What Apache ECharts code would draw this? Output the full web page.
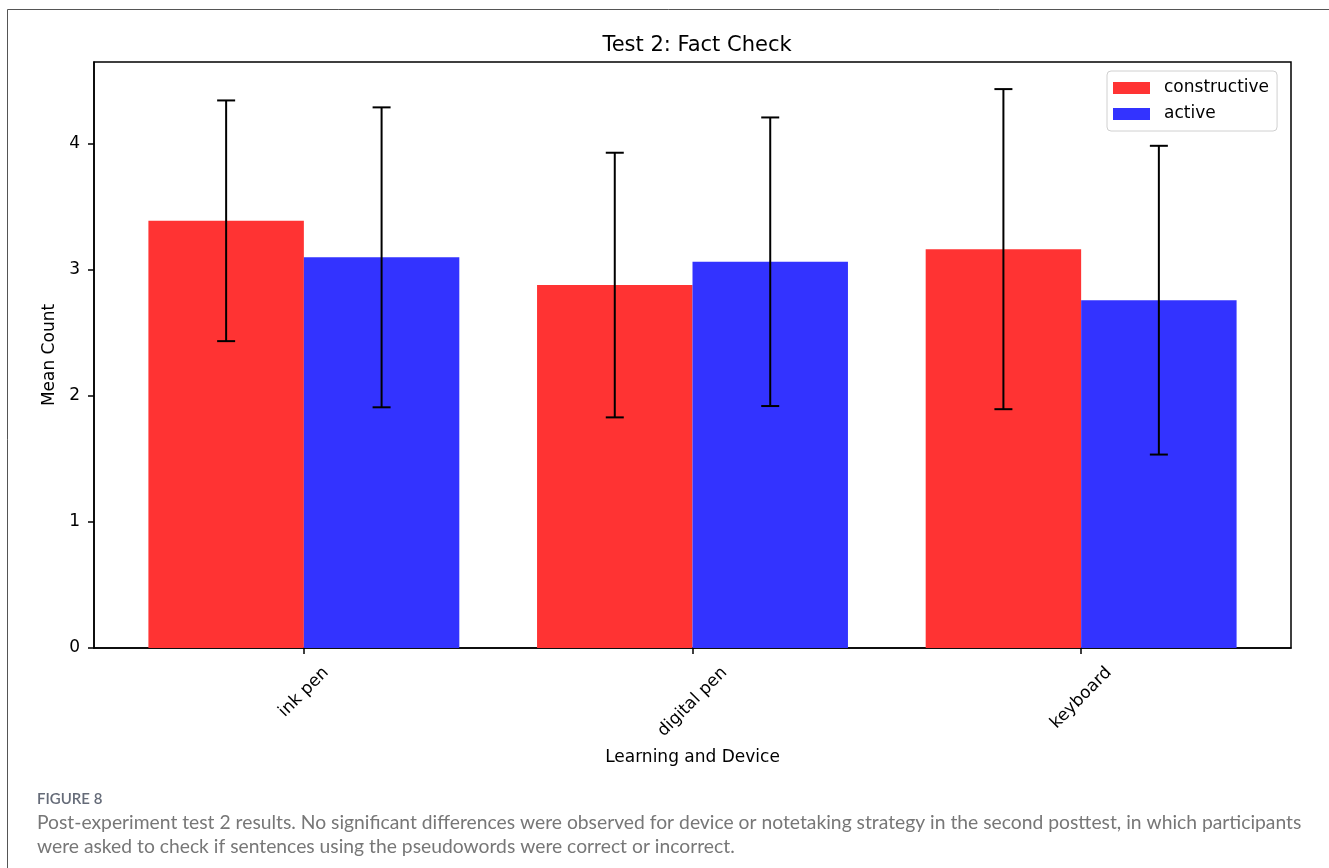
<!DOCTYPE html>
<html>
<head>
<meta charset="utf-8">
<script src="https://cdn.jsdelivr.net/npm/echarts@6/dist/echarts.min.js"></script>
<style>
  html, body { margin: 0; padding: 0; background: #fff; }
  #chart { width: 1329px; height: 868px; }
</style>
</head>
<body>
<div id="chart"></div>
<script>
// Test 2 (fact check): mean counts with error bars per device and notetaking strategy
const categories = ['ink pen', 'digital pen', 'keyboard'];
const constructiveMeans = [3.39, 2.88, 3.165];
const activeMeans = [3.10, 3.065, 2.76];
const constructiveErr = [0.955, 1.05, 1.27];
const activeErr = [1.19, 1.145, 1.225];
const yTicks = [0, 1, 2, 3, 4];
const seriesNames = ['constructive', 'active'];

const FONT = '"DejaVu Sans", sans-serif';
const CAPTION_FONT = 'Lato, "Open Sans", sans-serif';
const LABEL_SIZE = 17;
const BAR_W = 0.4;

const chart = echarts.init(document.getElementById('chart'), null, { renderer: 'canvas' });

// text width helper for the rotated category labels
const measureCtx = document.createElement('canvas').getContext('2d');
measureCtx.font = LABEL_SIZE + 'px "DejaVu Sans"';
function textWidth(s) { return measureCtx.measureText(s).width; }

function barRender(offset) {
  return function (params, api) {
    const x = api.value(0), v = api.value(1);
    const p0 = api.coord([x + offset, v]);
    const p1 = api.coord([x + offset + BAR_W, 0]);
    return {
      type: 'rect',
      shape: { x: p0[0], y: p0[1], width: p1[0] - p0[0], height: p1[1] - p0[1] },
      style: api.style()
    };
  };
}

function errRender(offset) {
  return function (params, api) {
    const x = api.value(0) + offset, v = api.value(1), e = api.value(2);
    const top = api.coord([x, v + e]);
    const bot = api.coord([x, v - e]);
    const cap = 9;
    const st = { stroke: '#000', lineWidth: 2 };
    return {
      type: 'group',
      children: [
        { type: 'line', shape: { x1: top[0], y1: top[1], x2: bot[0], y2: bot[1] }, style: st },
        { type: 'line', shape: { x1: top[0] - cap, y1: top[1], x2: top[0] + cap, y2: top[1] }, style: st },
        { type: 'line', shape: { x1: bot[0] - cap, y1: bot[1], x2: bot[0] + cap, y2: bot[1] }, style: st }
      ]
    };
  };
}

// category labels rotated 45°, centred under each tick
function labelRender(params, api) {
  const i = api.value(0);
  const base = api.coord([i, 0]);
  const txt = categories[params.dataIndex];
  const w = textWidth(txt), h = 20;
  const cy = base[1] + 15 + 0.354 * (w + h);
  return {
    type: 'text',
    x: base[0],
    y: cy,
    rotation: Math.PI / 4,
    style: {
      text: txt,
      font: LABEL_SIZE + 'px ' + FONT,
      fill: '#000',
      align: 'center',
      verticalAlign: 'middle'
    }
  };
}

const option = {
  animation: false,
  backgroundColor: '#fff',
  title: {
    text: 'Test 2: Fact Check',
    left: 692,
    textAlign: 'center',
    top: 30,
    textStyle: { fontFamily: FONT, fontSize: 21, fontWeight: 'normal', color: '#000' }
  },
  legend: {
    data: seriesNames,
    orient: 'vertical',
    left: 1107,
    top: 71,
    padding: [8, 8, 8, 6],
    itemGap: 8,
    itemWidth: 37,
    itemHeight: 12,
    icon: 'rect',
    borderColor: '#d0d0d0',
    borderWidth: 1,
    borderRadius: 4,
    backgroundColor: '#fff',
    textStyle: { fontFamily: FONT, fontSize: LABEL_SIZE, color: '#000', padding: [0, 0, 0, 9], lineHeight: 18 }
  },
  grid: {
    left: 94, right: 38, top: 62, bottom: 220,
    show: true, borderColor: '#000', borderWidth: 1.5, backgroundColor: 'transparent'
  },
  xAxis: {
    type: 'value',
    min: -0.54,
    max: 2.54,
    splitLine: { show: false },
    axisLine: { show: true, onZero: false, lineStyle: { color: '#000', width: 1.5 } },
    axisTick: { show: true, length: 6, lineStyle: { color: '#000', width: 1.5 }, customValues: [0, 1, 2] },
    axisLabel: { show: false },
    name: 'Learning and Device',
    nameLocation: 'middle',
    nameGap: 101,
    nameTextStyle: { fontFamily: FONT, fontSize: LABEL_SIZE, color: '#000' }
  },
  yAxis: {
    type: 'value',
    min: 0,
    max: 4.65,
    interval: 1,
    splitLine: { show: false },
    axisLine: { show: true, onZero: false, lineStyle: { color: '#000', width: 1.5 } },
    axisTick: { show: true, length: 6, lineStyle: { color: '#000', width: 1.5 }, customValues: yTicks },
    axisLabel: {
      customValues: yTicks,
      margin: 14,
      fontFamily: FONT, fontSize: LABEL_SIZE, color: '#000'
    },
    name: 'Mean Count',
    nameLocation: 'middle',
    nameRotate: 90,
    nameGap: 28,
    nameTextStyle: { fontFamily: FONT, fontSize: LABEL_SIZE, color: '#000' }
  },
  graphic: [
    {
      type: 'rect',
      shape: { x: 7.5, y: 9.5, width: 1400, height: 900 },
      style: { fill: 'none', stroke: '#555', lineWidth: 1 },
      silent: true, z: 100
    },
    {
      type: 'text', left: 37, top: 792,
      style: { text: 'FIGURE 8', font: '600 15px ' + CAPTION_FONT, fill: '#656b78' }
    },
    {
      type: 'text', left: 37, top: 813,
      style: {
        text: 'Post-experiment test 2 results. No significant differences were observed for device or notetaking strategy in the second posttest, in which participants',
        font: '19.3px ' + CAPTION_FONT, fill: '#777'
      }
    },
    {
      type: 'text', left: 37, top: 837,
      style: {
        text: 'were asked to check if sentences using the pseudowords were correct or incorrect.',
        font: '19.3px ' + CAPTION_FONT, fill: '#777'
      }
    }
  ],
  series: [
    {
      name: 'constructive', type: 'custom', coordinateSystem: 'cartesian2d',
      itemStyle: { color: '#ff3333' },
      encode: { x: 0, y: 1 },
      data: constructiveMeans.map((v, i) => [i, v]),
      renderItem: barRender(-BAR_W), z: 2
    },
    {
      name: 'active', type: 'custom', coordinateSystem: 'cartesian2d',
      itemStyle: { color: '#3333ff' },
      encode: { x: 0, y: 1 },
      data: activeMeans.map((v, i) => [i, v]),
      renderItem: barRender(0), z: 2
    },
    {
      name: 'constructive error', type: 'custom', coordinateSystem: 'cartesian2d',
      encode: { x: 0, y: 1 },
      data: constructiveMeans.map((v, i) => [i, v, constructiveErr[i]]),
      renderItem: errRender(-BAR_W / 2), z: 3, silent: true
    },
    {
      name: 'active error', type: 'custom', coordinateSystem: 'cartesian2d',
      encode: { x: 0, y: 1 },
      data: activeMeans.map((v, i) => [i, v, activeErr[i]]),
      renderItem: errRender(BAR_W / 2), z: 3, silent: true
    },
    {
      name: 'category labels', type: 'custom', coordinateSystem: 'cartesian2d',
      encode: { x: 0, y: 1 },
      data: categories.map((c, i) => [i, 0]),
      renderItem: labelRender, silent: true, clip: false
    }
  ]
};

chart.setOption(option);
</script>
</body>
</html>
